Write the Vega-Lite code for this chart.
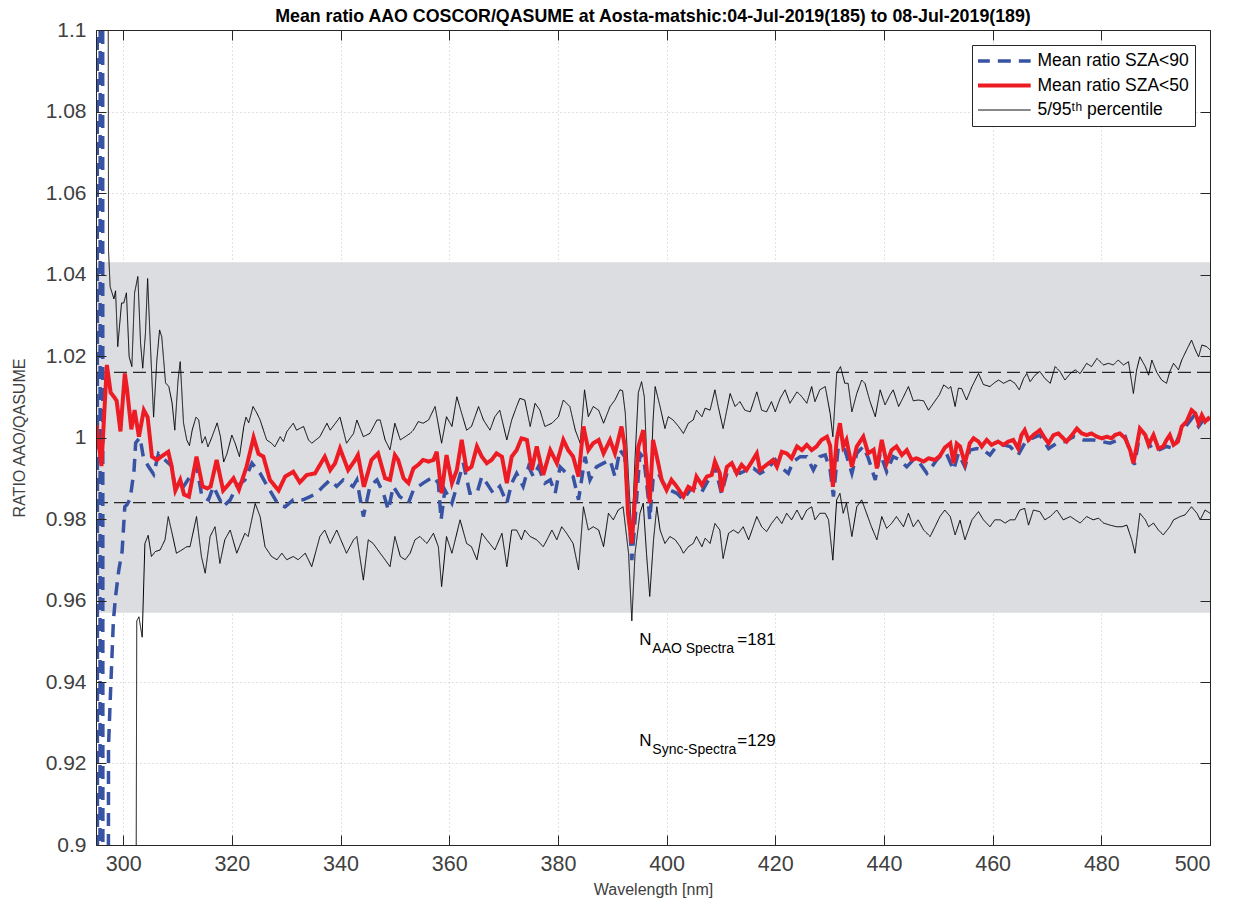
{
"$schema":"https://vega.github.io/schema/vega-lite/v6.json",
"width":1114,"height":815,
"autosize":"none",
"padding":{"left":96,"top":30,"right":24,"bottom":65},
"background":"white",
"config":{"view":{"stroke":null},"font":"Liberation Sans",
 "legend":{"orient":"none","legendX":876,"legendY":15,"fillColor":"white","strokeColor":"#262626","padding":6,"labelFontSize":17.5,"labelFont":"Liberation Sans","labelColor":"#000000","labelOffset":25,"symbolType":"stroke","symbolSize":2900,"symbolOffset":17,"clipHeight":20,"rowPadding":4.5}},
"resolve":{"axis":{"x":"independent","y":"independent"}},
"datasets":{
"red":[{"w":295.1,"v":1.003},{"w":296.0,"v":0.993},{"w":297.0,"v":1.0178},{"w":297.7,"v":1.011},{"w":298.3,"v":1.010},{"w":298.8,"v":1.009},{"w":299.5,"v":1.0015},{"w":300.3,"v":1.0157},{"w":300.7,"v":1.012},{"w":301.5,"v":1.002},{"w":302.1,"v":1.0067},{"w":302.9,"v":1.0002},{"w":303.8,"v":1.0067},{"w":304.5,"v":1.005},{"w":305.3,"v":0.9953},{"w":306.2,"v":0.9945},{"w":307.2,"v":0.9955},{"w":308.3,"v":0.9965},{"w":308.9,"v":0.993},{"w":309.6,"v":0.987},{"w":310.5,"v":0.9896},{"w":311.2,"v":0.986},{"w":312.1,"v":0.9855},{"w":313.5,"v":0.9953},{"w":314.6,"v":0.988},{"w":315.5,"v":0.9875},{"w":316.1,"v":0.988},{"w":317.2,"v":0.9945},{"w":318.4,"v":0.987},{"w":319.4,"v":0.9885},{"w":320.3,"v":0.990},{"w":321.3,"v":0.9872},{"w":322.7,"v":0.9928},{"w":324.0,"v":1.000},{"w":324.9,"v":0.996},{"w":325.8,"v":0.9953},{"w":327.0,"v":0.9896},{"w":328.6,"v":0.987},{"w":329.8,"v":0.9904},{"w":331.3,"v":0.9916},{"w":332.5,"v":0.989},{"w":333.8,"v":0.9908},{"w":335.3,"v":0.9912},{"w":337.1,"v":0.9953},{"w":338.1,"v":0.992},{"w":339.0,"v":0.9937},{"w":339.9,"v":0.9973},{"w":341.4,"v":0.992},{"w":342.7,"v":0.9945},{"w":343.2,"v":0.9957},{"w":344.3,"v":0.9879},{"w":345.7,"v":0.9945},{"w":346.9,"v":0.9961},{"w":348.2,"v":0.990},{"w":349.1,"v":0.9896},{"w":350.0,"v":0.9957},{"w":350.6,"v":0.9945},{"w":351.6,"v":0.990},{"w":352.5,"v":0.9888},{"w":353.4,"v":0.9924},{"w":354.3,"v":0.9933},{"w":355.2,"v":0.9945},{"w":356.2,"v":0.9941},{"w":357.1,"v":0.9945},{"w":357.7,"v":0.9965},{"w":358.6,"v":0.9863},{"w":359.5,"v":0.9957},{"w":360.5,"v":0.9888},{"w":361.4,"v":0.992},{"w":362.3,"v":0.9994},{"w":363.2,"v":0.992},{"w":364.1,"v":0.9928},{"w":365.1,"v":0.9978},{"w":366.0,"v":0.9953},{"w":366.9,"v":0.9937},{"w":367.8,"v":0.9945},{"w":368.7,"v":0.9961},{"w":369.7,"v":0.9953},{"w":370.6,"v":0.9888},{"w":371.5,"v":0.9953},{"w":372.4,"v":0.9969},{"w":373.3,"v":0.9998},{"w":374.3,"v":0.9994},{"w":375.2,"v":0.992},{"w":376.1,"v":0.9978},{"w":377.3,"v":0.9908},{"w":378.6,"v":0.9969},{"w":379.8,"v":0.9937},{"w":381.0,"v":0.9994},{"w":381.9,"v":0.9969},{"w":382.8,"v":0.9953},{"w":383.8,"v":0.9904},{"w":384.7,"v":1.0027},{"w":385.6,"v":0.9969},{"w":386.5,"v":0.9986},{"w":387.5,"v":0.9994},{"w":388.4,"v":0.9961},{"w":389.6,"v":0.9994},{"w":390.5,"v":0.9961},{"w":391.7,"v":1.0027},{"w":392.3,"v":0.998},{"w":392.9,"v":0.9814},{"w":393.6,"v":0.974},{"w":394.2,"v":0.9855},{"w":394.8,"v":0.9977},{"w":395.7,"v":1.0018},{"w":396.3,"v":0.9928},{"w":396.9,"v":0.9839},{"w":397.5,"v":0.9994},{"w":398.2,"v":0.9953},{"w":399.1,"v":0.9896},{"w":400.0,"v":0.9871},{"w":400.9,"v":0.9896},{"w":401.9,"v":0.9879},{"w":403.1,"v":0.9855},{"w":404.0,"v":0.9879},{"w":404.9,"v":0.9871},{"w":405.5,"v":0.9904},{"w":406.5,"v":0.9883},{"w":407.4,"v":0.9904},{"w":408.3,"v":0.9908},{"w":408.9,"v":0.9941},{"w":409.8,"v":0.9912},{"w":410.1,"v":0.9867},{"w":411.1,"v":0.9928},{"w":412.0,"v":0.9937},{"w":412.9,"v":0.9912},{"w":413.8,"v":0.9933},{"w":414.7,"v":0.992},{"w":415.7,"v":0.9941},{"w":416.6,"v":0.9961},{"w":417.2,"v":0.992},{"w":418.4,"v":0.9933},{"w":419.6,"v":0.9945},{"w":420.3,"v":0.9928},{"w":421.2,"v":0.9965},{"w":422.1,"v":0.9961},{"w":423.0,"v":0.9949},{"w":424.0,"v":0.9978},{"w":424.9,"v":0.9969},{"w":425.8,"v":0.9982},{"w":426.7,"v":0.9969},{"w":427.6,"v":0.9978},{"w":428.5,"v":0.9994},{"w":429.5,"v":1.0002},{"w":430.1,"v":0.998},{"w":430.6,"v":0.9879},{"w":431.3,"v":0.9994},{"w":431.9,"v":1.0035},{"w":432.5,"v":0.9978},{"w":433.1,"v":0.9994},{"w":434.1,"v":0.9928},{"w":435.0,"v":0.9978},{"w":436.2,"v":1.0002},{"w":437.1,"v":0.9961},{"w":438.1,"v":0.997},{"w":438.7,"v":0.9924},{"w":439.6,"v":0.9994},{"w":440.5,"v":0.9937},{"w":441.4,"v":0.9969},{"w":442.3,"v":0.9978},{"w":443.3,"v":0.9957},{"w":444.2,"v":0.9969},{"w":445.1,"v":0.9945},{"w":446.0,"v":0.9949},{"w":447.3,"v":0.9941},{"w":448.2,"v":0.9949},{"w":449.4,"v":0.9945},{"w":450.3,"v":0.9955},{"w":451.2,"v":0.9975},{"w":452.2,"v":0.9986},{"w":452.8,"v":0.9937},{"w":453.4,"v":0.9985},{"w":454.0,"v":0.9978},{"w":454.9,"v":0.9937},{"w":455.8,"v":0.9986},{"w":456.5,"v":0.9998},{"w":457.4,"v":0.999},{"w":458.0,"v":0.9978},{"w":458.9,"v":0.9994},{"w":459.8,"v":0.9982},{"w":461.0,"v":0.999},{"w":462.0,"v":0.9982},{"w":462.9,"v":0.999},{"w":463.8,"v":0.9994},{"w":464.7,"v":0.9973},{"w":465.3,"v":1.0006},{"w":465.9,"v":1.0018},{"w":466.6,"v":0.9994},{"w":467.5,"v":1.0006},{"w":468.7,"v":1.0018},{"w":469.6,"v":0.9998},{"w":470.3,"v":0.9986},{"w":471.2,"v":1.0006},{"w":472.1,"v":1.001},{"w":473.0,"v":0.9998},{"w":473.6,"v":0.999},{"w":474.6,"v":1.0006},{"w":475.5,"v":1.0022},{"w":476.4,"v":1.001},{"w":477.3,"v":1.0006},{"w":478.2,"v":1.001},{"w":479.2,"v":1.0002},{"w":480.1,"v":0.9998},{"w":481.0,"v":1.0002},{"w":481.9,"v":0.9998},{"w":482.5,"v":1.0006},{"w":483.4,"v":1.001},{"w":484.4,"v":0.9998},{"w":485.3,"v":0.9969},{"w":485.9,"v":0.9937},{"w":486.5,"v":0.9978},{"w":487.1,"v":1.0022},{"w":488.1,"v":1.0006},{"w":488.7,"v":0.9982},{"w":489.6,"v":1.0006},{"w":490.5,"v":0.9973},{"w":491.4,"v":0.9978},{"w":492.0,"v":0.9994},{"w":492.6,"v":1.0006},{"w":493.3,"v":0.9982},{"w":494.1,"v":0.999},{"w":494.8,"v":1.0027},{"w":495.7,"v":1.0039},{"w":496.6,"v":1.0067},{"w":497.3,"v":1.0059},{"w":497.9,"v":1.0035},{"w":498.5,"v":1.0055},{"w":499.1,"v":1.0039},{"w":499.7,"v":1.0047},{"w":500.0,"v":1.0043}],
"blue":[{"w":295.0,"v":2.5},{"w":295.5,"v":-0.5},{"w":296.0,"v":2.5},{"w":296.5,"v":-0.5},{"w":297.3,"v":0.924},{"w":297.6,"v":0.935},{"w":297.9,"v":0.945},{"w":298.2,"v":0.955},{"w":298.6,"v":0.961},{"w":299.2,"v":0.9675},{"w":299.8,"v":0.972},{"w":300.3,"v":0.983},{"w":300.7,"v":0.9835},{"w":301.3,"v":0.985},{"w":302.0,"v":0.992},{"w":302.3,"v":0.9987},{"w":303.1,"v":1.0},{"w":303.7,"v":0.9953},{"w":304.6,"v":0.993},{"w":305.6,"v":0.991},{"w":306.5,"v":0.996},{"w":307.7,"v":0.9945},{"w":308.9,"v":0.993},{"w":309.7,"v":0.9867},{"w":311.1,"v":0.988},{"w":312.3,"v":0.9904},{"w":313.5,"v":0.993},{"w":314.5,"v":0.9855},{"w":315.7,"v":0.9847},{"w":316.6,"v":0.988},{"w":318.4,"v":0.983},{"w":319.7,"v":0.9847},{"w":320.9,"v":0.988},{"w":322.4,"v":0.9896},{"w":323.7,"v":0.9937},{"w":325.2,"v":0.9912},{"w":327.0,"v":0.987},{"w":328.6,"v":0.9834},{"w":329.8,"v":0.983},{"w":331.3,"v":0.9847},{"w":333.1,"v":0.9847},{"w":334.4,"v":0.9855},{"w":335.6,"v":0.9863},{"w":336.8,"v":0.988},{"w":338.1,"v":0.9896},{"w":339.3,"v":0.988},{"w":340.5,"v":0.9896},{"w":342.3,"v":0.988},{"w":343.0,"v":0.9896},{"w":344.2,"v":0.9806},{"w":345.4,"v":0.988},{"w":346.7,"v":0.9896},{"w":347.9,"v":0.9863},{"w":348.8,"v":0.9822},{"w":349.7,"v":0.988},{"w":350.9,"v":0.9855},{"w":352.5,"v":0.9839},{"w":353.4,"v":0.9871},{"w":355.2,"v":0.9888},{"w":357.1,"v":0.9904},{"w":358.0,"v":0.9888},{"w":358.5,"v":0.9798},{"w":359.2,"v":0.9871},{"w":360.5,"v":0.9839},{"w":361.4,"v":0.988},{"w":362.6,"v":0.9937},{"w":363.8,"v":0.9863},{"w":365.1,"v":0.9863},{"w":366.0,"v":0.9904},{"w":366.9,"v":0.9888},{"w":368.1,"v":0.9863},{"w":369.3,"v":0.988},{"w":370.6,"v":0.9839},{"w":371.5,"v":0.9888},{"w":372.4,"v":0.9912},{"w":373.6,"v":0.988},{"w":374.6,"v":0.9928},{"w":375.5,"v":0.9904},{"w":376.4,"v":0.9928},{"w":377.6,"v":0.9888},{"w":378.6,"v":0.9896},{"w":379.5,"v":0.9863},{"w":380.4,"v":0.9928},{"w":381.6,"v":0.9912},{"w":382.8,"v":0.9904},{"w":383.8,"v":0.9847},{"w":385.0,"v":0.9953},{"w":385.9,"v":0.9896},{"w":387.1,"v":0.9928},{"w":388.4,"v":0.9937},{"w":389.6,"v":0.9945},{"w":390.5,"v":0.9904},{"w":391.4,"v":0.997},{"w":392.3,"v":0.9953},{"w":393.0,"v":0.983},{"w":393.6,"v":0.9699},{"w":394.2,"v":0.9798},{"w":395.1,"v":0.9961},{"w":395.8,"v":0.995},{"w":396.6,"v":0.9855},{"w":396.9,"v":0.9798},{"w":397.5,"v":0.9896},{"w":398.5,"v":0.9912},{"w":399.4,"v":0.9888},{"w":400.6,"v":0.9871},{"w":401.9,"v":0.9863},{"w":403.1,"v":0.9847},{"w":404.3,"v":0.9871},{"w":405.5,"v":0.9879},{"w":406.5,"v":0.9867},{"w":407.7,"v":0.9896},{"w":408.9,"v":0.9928},{"w":410.1,"v":0.9863},{"w":411.1,"v":0.9912},{"w":412.3,"v":0.992},{"w":413.5,"v":0.9912},{"w":414.7,"v":0.992},{"w":416.0,"v":0.9924},{"w":417.2,"v":0.9912},{"w":418.4,"v":0.992},{"w":420.0,"v":0.9945},{"w":420.9,"v":0.9928},{"w":422.4,"v":0.9912},{"w":423.3,"v":0.9941},{"w":424.6,"v":0.9953},{"w":425.8,"v":0.9953},{"w":427.0,"v":0.992},{"w":428.2,"v":0.9953},{"w":429.2,"v":0.9957},{"w":430.1,"v":0.992},{"w":430.7,"v":0.9855},{"w":431.6,"v":0.9978},{"w":432.8,"v":0.997},{"w":434.1,"v":0.9912},{"w":435.0,"v":0.9961},{"w":436.2,"v":0.9978},{"w":437.1,"v":0.995},{"w":438.4,"v":0.9896},{"w":439.3,"v":0.9961},{"w":440.5,"v":0.9916},{"w":441.7,"v":0.9953},{"w":442.9,"v":0.9945},{"w":444.2,"v":0.9928},{"w":445.4,"v":0.9945},{"w":446.6,"v":0.9937},{"w":447.9,"v":0.9912},{"w":448.8,"v":0.9928},{"w":449.7,"v":0.9945},{"w":450.9,"v":0.9961},{"w":451.5,"v":0.9961},{"w":452.8,"v":0.992},{"w":453.7,"v":0.9961},{"w":454.9,"v":0.9928},{"w":455.8,"v":0.9969},{"w":457.1,"v":0.9973},{"w":458.3,"v":0.9969},{"w":459.5,"v":0.9957},{"w":460.7,"v":0.9978},{"w":462.0,"v":0.9982},{"w":463.2,"v":0.9978},{"w":464.7,"v":0.9957},{"w":465.9,"v":0.9986},{"w":467.2,"v":0.9998},{"w":468.7,"v":1.0006},{"w":470.3,"v":0.9973},{"w":471.8,"v":0.9986},{"w":473.3,"v":0.999},{"w":474.9,"v":1.0002},{"w":476.7,"v":0.9994},{"w":478.5,"v":0.9994},{"w":480.1,"v":0.999},{"w":481.6,"v":0.9986},{"w":483.1,"v":0.9994},{"w":484.4,"v":1.0002},{"w":485.6,"v":0.9953},{"w":486.1,"v":0.9933},{"w":486.8,"v":0.9986},{"w":488.1,"v":1.0002},{"w":489.3,"v":0.9973},{"w":490.5,"v":0.9969},{"w":492.0,"v":0.9978},{"w":493.3,"v":0.9973},{"w":494.5,"v":1.001},{"w":496.0,"v":1.0035},{"w":496.9,"v":1.0051},{"w":497.9,"v":1.0027},{"w":498.8,"v":1.0043},{"w":500.0,"v":1.0043}],
"p95":[{"w":295.0,"v":1.4},{"w":297.0,"v":1.4},{"w":297.3,"v":1.046},{"w":297.6,"v":1.037},{"w":298.3,"v":1.034},{"w":298.6,"v":1.036},{"w":299.0,"v":1.0223},{"w":299.7,"v":1.033},{"w":300.1,"v":1.033},{"w":300.6,"v":1.0355},{"w":301.1,"v":1.0198},{"w":301.6,"v":1.0174},{"w":302.1,"v":1.0355},{"w":302.7,"v":1.0395},{"w":303.2,"v":1.0232},{"w":303.6,"v":1.017},{"w":304.1,"v":1.0256},{"w":304.5,"v":1.039},{"w":305.0,"v":1.023},{"w":305.6,"v":1.005},{"w":306.2,"v":1.019},{"w":306.7,"v":1.0264},{"w":307.1,"v":1.0247},{"w":307.8,"v":1.0134},{"w":308.4,"v":1.0125},{"w":309.0,"v":1.0085},{"w":309.5,"v":1.0018},{"w":310.1,"v":1.0141},{"w":310.5,"v":1.0186},{"w":311.1,"v":1.0036},{"w":311.7,"v":0.9994},{"w":312.2,"v":0.998},{"w":312.7,"v":1.0018},{"w":313.4,"v":1.005},{"w":313.9,"v":1.0043},{"w":314.5,"v":0.9986},{"w":315.1,"v":1.0002},{"w":315.6,"v":0.9977},{"w":316.3,"v":1.0},{"w":317.3,"v":1.0036},{"w":317.9,"v":1.0002},{"w":318.5,"v":0.994},{"w":319.1,"v":0.996},{"w":320.0,"v":1.0006},{"w":320.6,"v":0.9986},{"w":321.4,"v":0.9953},{"w":322.2,"v":1.0027},{"w":322.6,"v":1.005},{"w":323.1,"v":1.0036},{"w":323.9,"v":1.0076},{"w":324.6,"v":1.006},{"w":325.2,"v":1.0043},{"w":326.4,"v":0.9994},{"w":327.3,"v":0.9986},{"w":327.9,"v":0.9977},{"w":328.9,"v":1.0002},{"w":329.5,"v":0.999},{"w":330.1,"v":1.0014},{"w":331.3,"v":1.0035},{"w":331.9,"v":1.0018},{"w":333.2,"v":1.0027},{"w":334.1,"v":0.9994},{"w":334.7,"v":0.9986},{"w":336.2,"v":1.0002},{"w":337.5,"v":1.0035},{"w":338.1,"v":1.0018},{"w":339.9,"v":1.005},{"w":341.1,"v":0.9986},{"w":342.4,"v":1.001},{"w":343.0,"v":1.0043},{"w":344.2,"v":1.0002},{"w":345.4,"v":1.001},{"w":346.7,"v":1.0043},{"w":347.3,"v":1.0043},{"w":348.2,"v":0.9994},{"w":349.1,"v":0.997},{"w":350.0,"v":1.0035},{"w":351.0,"v":0.9994},{"w":351.9,"v":1.0002},{"w":352.8,"v":1.001},{"w":353.4,"v":1.0018},{"w":354.3,"v":1.0039},{"w":355.2,"v":1.0035},{"w":356.2,"v":1.0043},{"w":357.4,"v":1.0076},{"w":358.6,"v":0.9986},{"w":359.5,"v":1.0051},{"w":360.5,"v":1.0027},{"w":361.4,"v":1.01},{"w":362.3,"v":1.0059},{"w":363.2,"v":1.0018},{"w":364.1,"v":1.0027},{"w":365.4,"v":1.0076},{"w":366.3,"v":1.0043},{"w":367.5,"v":1.0018},{"w":368.4,"v":1.0051},{"w":369.3,"v":1.0067},{"w":370.6,"v":0.9994},{"w":371.5,"v":1.0043},{"w":372.4,"v":1.0076},{"w":373.0,"v":1.0096},{"w":373.9,"v":1.0092},{"w":374.9,"v":1.0027},{"w":375.8,"v":1.0084},{"w":376.7,"v":1.0067},{"w":377.6,"v":1.0027},{"w":378.9,"v":1.0035},{"w":380.1,"v":1.0051},{"w":381.0,"v":1.0092},{"w":382.2,"v":1.0076},{"w":383.2,"v":1.0018},{"w":384.1,"v":0.9986},{"w":384.9,"v":1.0117},{"w":385.6,"v":1.0051},{"w":386.5,"v":1.0076},{"w":387.5,"v":1.0067},{"w":388.4,"v":1.0035},{"w":389.6,"v":1.0076},{"w":390.5,"v":1.0092},{"w":391.4,"v":1.0117},{"w":391.9,"v":1.0115},{"w":392.4,"v":1.006},{"w":393.0,"v":0.99},{"w":393.6,"v":0.976},{"w":394.2,"v":0.995},{"w":394.8,"v":1.011},{"w":395.4,"v":1.0137},{"w":395.9,"v":1.01},{"w":396.5,"v":0.99},{"w":397.0,"v":0.985},{"w":397.5,"v":1.004},{"w":397.9,"v":1.0125},{"w":398.8,"v":1.0076},{"w":399.7,"v":1.0022},{"w":400.3,"v":1.0051},{"w":401.2,"v":1.0043},{"w":402.2,"v":1.0027},{"w":403.1,"v":1.001},{"w":404.0,"v":1.0035},{"w":404.9,"v":1.0043},{"w":405.5,"v":1.0067},{"w":406.5,"v":1.0051},{"w":407.1,"v":1.0072},{"w":408.0,"v":1.0067},{"w":408.9,"v":1.0117},{"w":409.5,"v":1.0076},{"w":410.4,"v":1.0022},{"w":411.7,"v":1.0108},{"w":412.6,"v":1.0076},{"w":413.5,"v":1.0088},{"w":414.4,"v":1.0067},{"w":415.4,"v":1.0063},{"w":416.6,"v":1.0112},{"w":417.5,"v":1.0067},{"w":418.4,"v":1.0063},{"w":419.3,"v":1.0088},{"w":420.0,"v":1.0063},{"w":420.9,"v":1.0096},{"w":421.8,"v":1.0117},{"w":422.7,"v":1.0084},{"w":424.0,"v":1.0112},{"w":424.9,"v":1.01},{"w":425.8,"v":1.0084},{"w":426.7,"v":1.0125},{"w":427.3,"v":1.0088},{"w":428.2,"v":1.0117},{"w":429.2,"v":1.0125},{"w":430.1,"v":1.0059},{"w":430.6,"v":1.0002},{"w":431.3,"v":1.0157},{"w":432.0,"v":1.0174},{"w":432.8,"v":1.0133},{"w":433.4,"v":1.0133},{"w":434.1,"v":1.0063},{"w":435.0,"v":1.0108},{"w":435.9,"v":1.0141},{"w":436.5,"v":1.0133},{"w":437.4,"v":1.009},{"w":438.4,"v":1.0051},{"w":439.3,"v":1.0117},{"w":440.2,"v":1.008},{"w":441.1,"v":1.0104},{"w":441.7,"v":1.0117},{"w":442.7,"v":1.0076},{"w":443.6,"v":1.01},{"w":444.5,"v":1.0125},{"w":445.4,"v":1.009},{"w":446.3,"v":1.0092},{"w":447.3,"v":1.009},{"w":448.2,"v":1.0067},{"w":449.1,"v":1.0084},{"w":450.2,"v":1.0105},{"w":451.0,"v":1.0129},{"w":451.9,"v":1.012},{"w":452.3,"v":1.0125},{"w":453.1,"v":1.0076},{"w":453.7,"v":1.0121},{"w":454.3,"v":1.012},{"w":455.2,"v":1.0092},{"w":456.2,"v":1.0125},{"w":457.4,"v":1.0157},{"w":458.3,"v":1.013},{"w":459.5,"v":1.0125},{"w":460.4,"v":1.0135},{"w":461.1,"v":1.0141},{"w":462.0,"v":1.0133},{"w":463.2,"v":1.0141},{"w":464.1,"v":1.0133},{"w":464.9,"v":1.0117},{"w":465.7,"v":1.0145},{"w":466.3,"v":1.0157},{"w":466.9,"v":1.0137},{"w":467.8,"v":1.0153},{"w":468.7,"v":1.0162},{"w":469.6,"v":1.0145},{"w":470.6,"v":1.0133},{"w":471.5,"v":1.0174},{"w":472.4,"v":1.0162},{"w":473.3,"v":1.0141},{"w":474.3,"v":1.0157},{"w":475.2,"v":1.0166},{"w":476.1,"v":1.0157},{"w":477.3,"v":1.0182},{"w":478.2,"v":1.0174},{"w":479.2,"v":1.0194},{"w":480.4,"v":1.0178},{"w":481.3,"v":1.0182},{"w":482.2,"v":1.0178},{"w":483.1,"v":1.019},{"w":484.1,"v":1.0178},{"w":485.0,"v":1.0186},{"w":485.9,"v":1.0108},{"w":486.5,"v":1.0166},{"w":487.1,"v":1.0198},{"w":488.1,"v":1.0174},{"w":488.7,"v":1.0153},{"w":489.3,"v":1.019},{"w":490.2,"v":1.016},{"w":491.1,"v":1.0141},{"w":492.0,"v":1.0133},{"w":492.6,"v":1.0162},{"w":493.3,"v":1.0182},{"w":494.2,"v":1.0166},{"w":494.8,"v":1.019},{"w":495.7,"v":1.0215},{"w":496.6,"v":1.0239},{"w":497.3,"v":1.0215},{"w":497.9,"v":1.0198},{"w":498.5,"v":1.0227},{"w":499.4,"v":1.0223},{"w":500.0,"v":1.0215}],
"p5":[{"w":295.0,"v":0.5},{"w":301.7,"v":0.5},{"w":302.5,"v":0.955},{"w":302.9,"v":0.956},{"w":303.5,"v":0.951},{"w":304.0,"v":0.974},{"w":304.6,"v":0.976},{"w":305.2,"v":0.9708},{"w":305.9,"v":0.972},{"w":306.8,"v":0.9724},{"w":307.7,"v":0.9749},{"w":308.3,"v":0.9806},{"w":309.0,"v":0.9765},{"w":309.8,"v":0.9716},{"w":310.8,"v":0.9724},{"w":311.7,"v":0.9732},{"w":312.3,"v":0.9732},{"w":313.5,"v":0.9806},{"w":314.4,"v":0.9708},{"w":315.1,"v":0.9667},{"w":316.0,"v":0.9757},{"w":316.9,"v":0.9781},{"w":317.8,"v":0.9691},{"w":318.7,"v":0.9749},{"w":319.7,"v":0.9773},{"w":320.9,"v":0.9716},{"w":322.4,"v":0.9765},{"w":323.0,"v":0.9757},{"w":324.3,"v":0.9838},{"w":325.2,"v":0.9806},{"w":326.1,"v":0.9732},{"w":327.3,"v":0.9708},{"w":328.3,"v":0.97},{"w":329.2,"v":0.9716},{"w":330.1,"v":0.97},{"w":331.3,"v":0.9708},{"w":332.2,"v":0.97},{"w":333.5,"v":0.9716},{"w":334.7,"v":0.9683},{"w":336.2,"v":0.9757},{"w":337.1,"v":0.9773},{"w":338.1,"v":0.974},{"w":339.3,"v":0.9773},{"w":341.1,"v":0.9716},{"w":342.4,"v":0.9749},{"w":343.0,"v":0.9757},{"w":344.2,"v":0.965},{"w":345.1,"v":0.9749},{"w":346.0,"v":0.974},{"w":347.3,"v":0.9716},{"w":348.2,"v":0.97},{"w":349.1,"v":0.9683},{"w":350.0,"v":0.9757},{"w":351.0,"v":0.9708},{"w":351.9,"v":0.97},{"w":352.8,"v":0.9716},{"w":353.7,"v":0.9749},{"w":354.6,"v":0.9757},{"w":355.9,"v":0.974},{"w":357.1,"v":0.9765},{"w":358.0,"v":0.9732},{"w":358.6,"v":0.9634},{"w":359.5,"v":0.9757},{"w":360.5,"v":0.9716},{"w":362.0,"v":0.9798},{"w":363.2,"v":0.974},{"w":364.1,"v":0.9732},{"w":365.1,"v":0.97},{"w":366.0,"v":0.9765},{"w":366.9,"v":0.9749},{"w":368.4,"v":0.9724},{"w":369.7,"v":0.9765},{"w":370.6,"v":0.9683},{"w":371.5,"v":0.9773},{"w":372.4,"v":0.9773},{"w":373.3,"v":0.9749},{"w":373.9,"v":0.9773},{"w":374.9,"v":0.9757},{"w":376.1,"v":0.9749},{"w":377.3,"v":0.9732},{"w":378.0,"v":0.9749},{"w":378.9,"v":0.9773},{"w":379.8,"v":0.9749},{"w":380.7,"v":0.9781},{"w":381.6,"v":0.9765},{"w":382.8,"v":0.974},{"w":383.8,"v":0.9675},{"w":384.7,"v":0.983},{"w":385.6,"v":0.9773},{"w":386.5,"v":0.9781},{"w":387.5,"v":0.9773},{"w":388.4,"v":0.9732},{"w":389.3,"v":0.9814},{"w":390.2,"v":0.9798},{"w":391.1,"v":0.9822},{"w":392.0,"v":0.983},{"w":393.0,"v":0.9716},{"w":393.6,"v":0.955},{"w":394.2,"v":0.9716},{"w":395.1,"v":0.9814},{"w":395.7,"v":0.9839},{"w":396.3,"v":0.9716},{"w":396.9,"v":0.961},{"w":397.6,"v":0.9749},{"w":398.2,"v":0.983},{"w":398.8,"v":0.9773},{"w":399.7,"v":0.974},{"w":400.6,"v":0.9757},{"w":401.6,"v":0.9749},{"w":402.5,"v":0.9732},{"w":403.1,"v":0.9716},{"w":404.0,"v":0.9732},{"w":404.9,"v":0.974},{"w":405.5,"v":0.9757},{"w":406.5,"v":0.9732},{"w":407.1,"v":0.9753},{"w":408.0,"v":0.974},{"w":408.9,"v":0.9789},{"w":409.8,"v":0.9773},{"w":410.4,"v":0.9703},{"w":411.4,"v":0.9765},{"w":412.3,"v":0.9773},{"w":413.2,"v":0.9765},{"w":414.1,"v":0.9781},{"w":415.1,"v":0.9749},{"w":416.6,"v":0.9806},{"w":417.5,"v":0.9781},{"w":418.4,"v":0.9769},{"w":419.3,"v":0.9789},{"w":420.3,"v":0.9806},{"w":421.2,"v":0.9789},{"w":422.1,"v":0.9814},{"w":423.0,"v":0.9798},{"w":424.0,"v":0.9822},{"w":424.9,"v":0.9798},{"w":425.8,"v":0.9822},{"w":426.7,"v":0.983},{"w":427.3,"v":0.9798},{"w":428.2,"v":0.9814},{"w":429.2,"v":0.9814},{"w":429.8,"v":0.9798},{"w":430.6,"v":0.9699},{"w":431.3,"v":0.9847},{"w":431.9,"v":0.9863},{"w":432.5,"v":0.9814},{"w":433.1,"v":0.9839},{"w":434.1,"v":0.9757},{"w":435.0,"v":0.983},{"w":435.9,"v":0.9847},{"w":436.8,"v":0.9814},{"w":437.7,"v":0.9781},{"w":438.7,"v":0.9749},{"w":439.6,"v":0.9806},{"w":440.5,"v":0.9777},{"w":441.4,"v":0.9789},{"w":442.3,"v":0.9806},{"w":443.6,"v":0.9781},{"w":444.5,"v":0.9814},{"w":445.4,"v":0.9781},{"w":446.3,"v":0.9798},{"w":447.3,"v":0.9773},{"w":448.5,"v":0.9757},{"w":449.4,"v":0.9781},{"w":450.3,"v":0.9806},{"w":451.2,"v":0.9822},{"w":452.2,"v":0.9806},{"w":453.1,"v":0.9761},{"w":454.0,"v":0.9797},{"w":454.9,"v":0.9749},{"w":456.2,"v":0.9798},{"w":457.4,"v":0.9818},{"w":458.3,"v":0.9798},{"w":459.5,"v":0.9781},{"w":460.4,"v":0.9798},{"w":461.4,"v":0.9798},{"w":462.3,"v":0.979},{"w":463.2,"v":0.9798},{"w":464.1,"v":0.9798},{"w":465.0,"v":0.9822},{"w":465.9,"v":0.9826},{"w":466.6,"v":0.9785},{"w":467.5,"v":0.9822},{"w":468.7,"v":0.9818},{"w":469.6,"v":0.9798},{"w":470.6,"v":0.9806},{"w":471.8,"v":0.9822},{"w":473.0,"v":0.9798},{"w":474.3,"v":0.9806},{"w":475.2,"v":0.9798},{"w":476.1,"v":0.979},{"w":477.3,"v":0.9806},{"w":478.5,"v":0.9798},{"w":479.5,"v":0.9802},{"w":480.4,"v":0.979},{"w":481.6,"v":0.9785},{"w":482.8,"v":0.9781},{"w":483.8,"v":0.9781},{"w":484.7,"v":0.9785},{"w":485.6,"v":0.9749},{"w":486.2,"v":0.9716},{"w":487.1,"v":0.9814},{"w":488.1,"v":0.9798},{"w":488.7,"v":0.9781},{"w":489.6,"v":0.979},{"w":490.5,"v":0.9773},{"w":491.4,"v":0.9761},{"w":492.6,"v":0.9781},{"w":493.3,"v":0.9798},{"w":494.5,"v":0.9806},{"w":495.4,"v":0.981},{"w":496.6,"v":0.983},{"w":497.6,"v":0.9814},{"w":498.2,"v":0.9798},{"w":499.1,"v":0.9822},{"w":500.0,"v":0.9814}]
},
"layer":[
{"data":{"values":[{}]},"mark":{"type":"rect","color":"#dcdde0"},
 "encoding":{"y":{"datum":0.957,"type":"quantitative","axis":null,"scale":{"domain":[0.9,1.1],"nice":false,"zero":false}},"y2":{"datum":1.043}}},
{"data":{"values":[{}]},"mark":{"type":"rule","color":"#262626","strokeWidth":1.3,"strokeDash":[13,6]},
 "encoding":{"y":{"datum":1.016,"type":"quantitative","axis":null}}},
{"data":{"values":[{}]},"mark":{"type":"rule","color":"#262626","strokeWidth":1.3,"strokeDash":[13,6]},
 "encoding":{"y":{"datum":0.984,"type":"quantitative","axis":null}}},
{"data":{"name":"p95"},"mark":{"type":"line","clip":true,"strokeWidth":1},
 "encoding":{
  "x":{"field":"w","type":"quantitative","scale":{"domain":[295,500],"nice":false,"zero":false},
   "axis":{"orient":"bottom","grid":true,"gridColor":"#c4c4c4","gridDash":[1,3],"gridWidth":1,"labels":false,"ticks":false,"domain":false,"title":null,"values":[300,320,340,360,380,400,420,440,460,480,500],"zindex":0}},
  "y":{"field":"v","type":"quantitative","scale":{"domain":[0.9,1.1],"nice":false,"zero":false},
   "axis":{"orient":"left","grid":true,"gridColor":"#c4c4c4","gridDash":[1,3],"gridWidth":1,"labels":false,"ticks":false,"domain":false,"title":null,"values":[0.9,0.92,0.94,0.96,0.98,1,1.02,1.04,1.06,1.08,1.1],"zindex":0}},
  "color":{"datum":"5/95ᵗʰ percentile","scale":{"domain":["Mean ratio SZA<90","Mean ratio SZA<50","5/95ᵗʰ percentile"],"range":["#3953a4","#ed1c24","#000000"]},"legend":{"title":null,"encode":{"symbols":{"update":{"strokeWidth":{"signal":"datum.value === 'Mean ratio SZA<90' ? 3.5 : (datum.value === 'Mean ratio SZA<50' ? 4 : 1)"}}}}}},
  "strokeDash":{"datum":"5/95ᵗʰ percentile","scale":{"domain":["Mean ratio SZA<90","Mean ratio SZA<50","5/95ᵗʰ percentile"],"range":[[13,8],[1,0],[1,0]]},"legend":{"title":null}}
 }},
{"data":{"name":"p5"},"mark":{"type":"line","clip":true,"strokeWidth":1},
 "encoding":{
  "x":{"field":"w","type":"quantitative","axis":{"orient":"top","grid":false,"labels":false,"ticks":true,"tickSize":-10,"tickColor":"#262626","domain":true,"domainColor":"#262626","title":null,"values":[300,320,340,360,380,400,420,440,460,480,500],"zindex":1}},
  "y":{"field":"v","type":"quantitative","axis":{"orient":"right","grid":false,"labels":false,"ticks":true,"tickSize":-10,"tickColor":"#262626","domain":true,"domainColor":"#262626","title":null,"values":[0.9,0.92,0.94,0.96,0.98,1,1.02,1.04,1.06,1.08,1.1],"zindex":1}},
  "color":{"datum":"5/95ᵗʰ percentile","legend":{"title":null,"encode":{"symbols":{"update":{"strokeWidth":{"signal":"datum.value === 'Mean ratio SZA<90' ? 3.5 : (datum.value === 'Mean ratio SZA<50' ? 4 : 1)"}}}}}},
  "strokeDash":{"datum":"5/95ᵗʰ percentile","legend":{"title":null}}
 }},
{"data":{"name":"blue"},"mark":{"type":"line","clip":true,"strokeWidth":3.5},
 "encoding":{
  "x":{"field":"w","type":"quantitative","axis":null},
  "y":{"field":"v","type":"quantitative","axis":null},
  "color":{"datum":"Mean ratio SZA<90","legend":{"title":null,"encode":{"symbols":{"update":{"strokeWidth":{"signal":"datum.value === 'Mean ratio SZA<90' ? 3.5 : (datum.value === 'Mean ratio SZA<50' ? 4 : 1)"}}}}}},
  "strokeDash":{"datum":"Mean ratio SZA<90","legend":{"title":null}}
 }},
{"data":{"name":"red"},"mark":{"type":"line","clip":true,"strokeWidth":4},
 "encoding":{
  "x":{"field":"w","type":"quantitative","axis":{"orient":"bottom","grid":false,"values":[300,320,340,360,380,400,420,440,460,480,500],"tickSize":-10,"tickColor":"#262626","domainColor":"#262626","labelFontSize":21.5,"labelColor":"#404040","labelFont":"Liberation Sans","labelPadding":18,"title":"Wavelength [nm]","titleFontSize":16,"titleFontWeight":"normal","titleColor":"#404040","titleFont":"Liberation Sans","titlePadding":7,"zindex":1}},
  "y":{"field":"v","type":"quantitative","axis":{"orient":"left","grid":false,"values":[0.9,0.92,0.94,0.96,0.98,1,1.02,1.04,1.06,1.08,1.1],"format":"~g","tickSize":-10,"tickColor":"#262626","domainColor":"#262626","labelFontSize":21,"labelColor":"#404040","labelFont":"Liberation Sans","labelPadding":20,"title":"RATIO AAO/QASUME","titleFontSize":16,"titleFontWeight":"normal","titleColor":"#404040","titleFont":"Liberation Sans","titlePadding":18,"zindex":1}},
  "color":{"datum":"Mean ratio SZA<50","legend":{"title":null,"encode":{"symbols":{"update":{"strokeWidth":{"signal":"datum.value === 'Mean ratio SZA<90' ? 3.5 : (datum.value === 'Mean ratio SZA<50' ? 4 : 1)"}}}}}},
  "strokeDash":{"datum":"Mean ratio SZA<50","legend":{"title":null}}
 }},
{"data":{"values":[{}]},"mark":{"type":"text","text":"Mean ratio AAO COSCOR/QASUME at Aosta-matshic:04-Jul-2019(185) to 08-Jul-2019(189)","fontSize":17.8,"fontWeight":"bold","align":"center","baseline":"alphabetic","color":"#000000","font":"Liberation Sans"},
 "encoding":{"x":{"datum":397.5,"type":"quantitative","axis":null},"y":{"datum":1.10196,"type":"quantitative","axis":null}}},
{"data":{"values":[{}]},"mark":{"type":"text","text":"N","fontSize":17,"align":"left","baseline":"alphabetic","color":"#000000","font":"Liberation Sans"},
 "encoding":{"x":{"datum":394.98,"type":"quantitative","axis":null},"y":{"datum":0.9491,"type":"quantitative","axis":null}}},
{"data":{"values":[{}]},"mark":{"type":"text","text":"AAO Spectra","fontSize":14,"align":"left","baseline":"alphabetic","dx":13,"dy":8,"color":"#000000","font":"Liberation Sans"},
 "encoding":{"x":{"datum":394.98,"type":"quantitative","axis":null},"y":{"datum":0.9491,"type":"quantitative","axis":null}}},
{"data":{"values":[{}]},"mark":{"type":"text","text":"=181","fontSize":17,"align":"left","baseline":"alphabetic","dx":98,"color":"#000000","font":"Liberation Sans"},
 "encoding":{"x":{"datum":394.98,"type":"quantitative","axis":null},"y":{"datum":0.9491,"type":"quantitative","axis":null}}},
{"data":{"values":[{}]},"mark":{"type":"text","text":"N","fontSize":17,"align":"left","baseline":"alphabetic","color":"#000000","font":"Liberation Sans"},
 "encoding":{"x":{"datum":394.98,"type":"quantitative","axis":null},"y":{"datum":0.9244,"type":"quantitative","axis":null}}},
{"data":{"values":[{}]},"mark":{"type":"text","text":"Sync-Spectra","fontSize":14,"align":"left","baseline":"alphabetic","dx":13,"dy":8,"color":"#000000","font":"Liberation Sans"},
 "encoding":{"x":{"datum":394.98,"type":"quantitative","axis":null},"y":{"datum":0.9244,"type":"quantitative","axis":null}}},
{"data":{"values":[{}]},"mark":{"type":"text","text":"=129","fontSize":17,"align":"left","baseline":"alphabetic","dx":98,"color":"#000000","font":"Liberation Sans"},
 "encoding":{"x":{"datum":394.98,"type":"quantitative","axis":null},"y":{"datum":0.9244,"type":"quantitative","axis":null}}}
]
}
